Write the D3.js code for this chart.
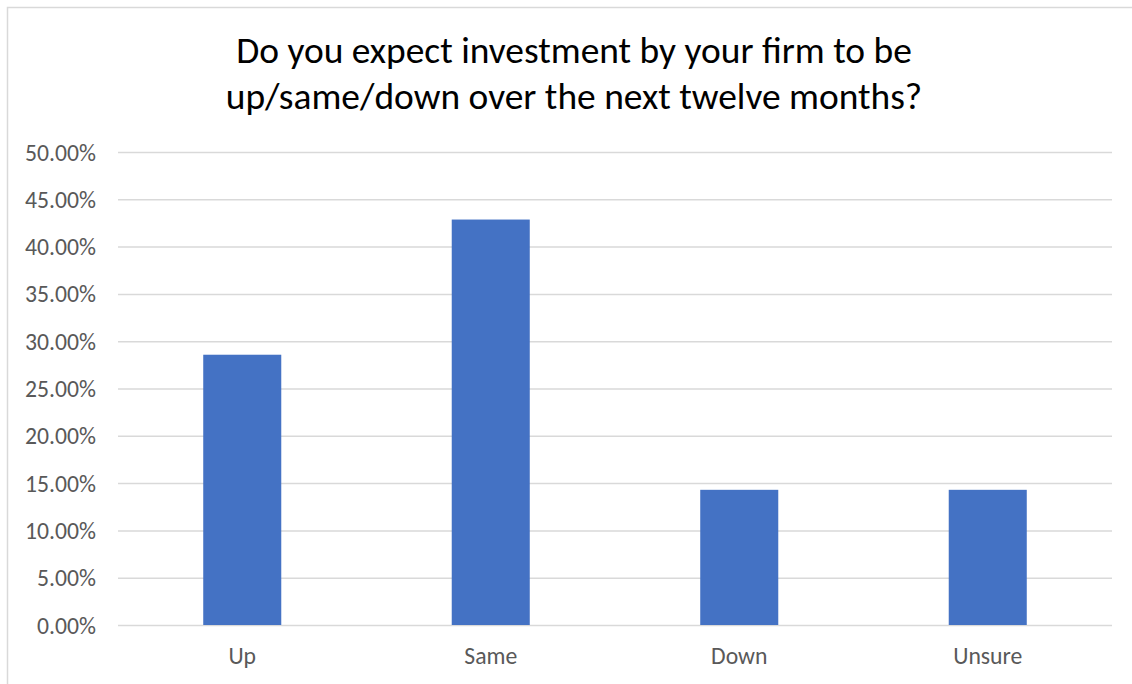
<!DOCTYPE html>
<html>
<head>
<meta charset="utf-8">
<script src="https://cdn.jsdelivr.net/npm/d3@7"></script>
<style>
  html, body { margin: 0; padding: 0; background: #fff; }
  svg { display: block; }
  text { font-family: "Carlito", "Calibri", "Lato", "Open Sans", sans-serif; }
</style>
</head>
<body>
<svg id="chart" width="1132" height="684"></svg>
<script>
const categories = ["Up", "Same", "Down", "Unsure"];
const values = [0.2857, 0.4286, 0.1429, 0.1429];
const yTicks = [0, 0.05, 0.10, 0.15, 0.20, 0.25, 0.30, 0.35, 0.40, 0.45, 0.50];
const titleLines = ["Do you expect investment by your firm to be", "up/same/down over the next twelve months?"];

const svg = d3.select("#chart");
const W = 1132, H = 684;
const plot = { left: 118, right: 1112, top: 152, bottom: 625 };

// outer chart border
svg.append("rect")
  .attr("x", 7.5).attr("y", 7.5)
  .attr("width", W + 20).attr("height", H + 20)
  .attr("fill", "#fff")
  .attr("stroke", "#d9d9d9").attr("stroke-width", 1.5);

const x = d3.scaleBand()
  .domain(categories)
  .range([plot.left, plot.right])
  .paddingInner(0.686)
  .paddingOuter(0.343);

const y = d3.scaleLinear()
  .domain([0, 0.5])
  .range([plot.bottom, plot.top]);

// gridlines
const yAxis = d3.axisLeft(y)
  .tickValues(yTicks)
  .tickFormat(d3.format(".2%"))
  .tickSize(-(plot.right - plot.left))
  .tickPadding(22);

const gy = svg.append("g")
  .attr("transform", `translate(${plot.left},0)`)
  .call(yAxis);
gy.select(".domain").remove();
gy.selectAll(".tick line").attr("stroke", "#d9d9d9").attr("stroke-width", 1.5);
gy.selectAll(".tick text")
  .attr("fill", "#595959")
  .style("font-size", "22px")
  .attr("dy", "0.34em");

// fit tick label size to reference width (~71px for "45.00%")
{
  const t = gy.selectAll(".tick text").filter(d => d === 0.45).node();
  const w = t.getComputedTextLength();
  const fs = 22 * 71 / w;
  gy.selectAll(".tick text").style("font-size", fs + "px");
}

// bars
svg.append("g").selectAll("rect")
  .data(categories.map((c, i) => ({ c, v: values[i] })))
  .join("rect")
  .attr("x", d => x(d.c))
  .attr("width", x.bandwidth())
  .attr("y", d => y(d.v))
  .attr("height", d => y(0) - y(d.v))
  .attr("fill", "#4472c4");

// x axis labels
const xAxis = d3.axisBottom(x).tickSize(0).tickPadding(0);
const gx = svg.append("g")
  .attr("transform", `translate(0,${plot.bottom})`)
  .call(xAxis);
gx.select(".domain").remove();
gx.selectAll(".tick text")
  .attr("fill", "#595959")
  .attr("y", 39)
  .attr("dy", 0)
  .style("font-size", gy.select(".tick text").style("font-size"));

// title
const cx = (plot.left + plot.right) / 2 + 9;
const title = svg.append("g");
title.selectAll("text")
  .data(titleLines)
  .join("text")
  .attr("x", 574)
  .attr("y", (d, i) => 63 + i * 45.5)
  .attr("text-anchor", "middle")
  .attr("fill", "#000")
  .style("font-size", "30px")
  .text(d => d);
{
  const t = title.select("text").node();
  const w = t.getComputedTextLength();
  const fs = 30 * 676 / w;
  title.selectAll("text").style("font-size", fs + "px");
}
</script>
</body>
</html>
